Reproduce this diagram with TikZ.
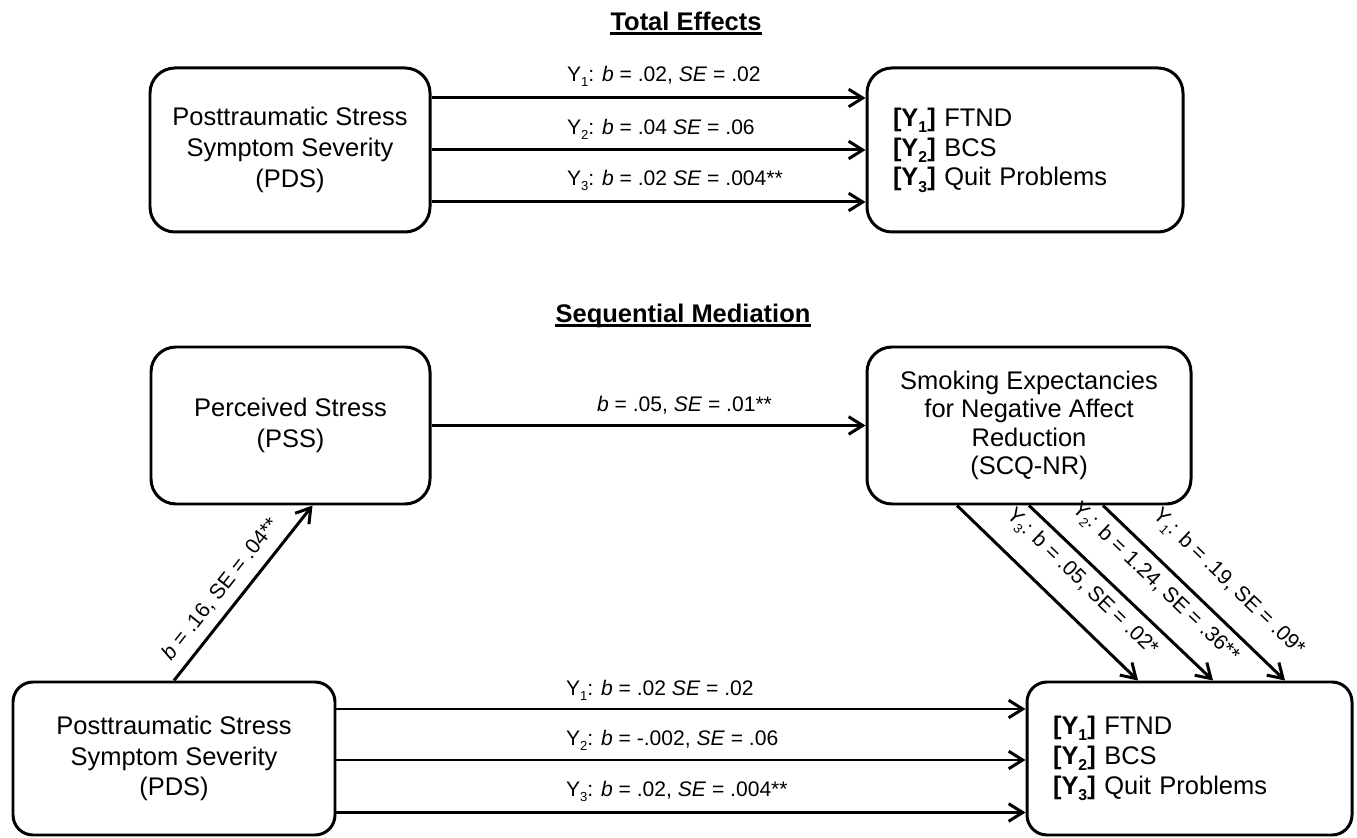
\documentclass[tikz,border=0pt]{standalone}
\usepackage{fontspec}
\setmainfont{Liberation Sans}
\usepackage{tikz}
\usetikzlibrary{positioning}
\usetikzlibrary{calc}
\usetikzlibrary{arrows.meta}

\newcommand{\lowsub}[1]{\raisebox{-0.45ex}{\scalebox{0.62}{#1}}}

\begin{document}
\begin{tikzpicture}[
    box/.style={draw, line width=1.7pt, rounded corners=0.5cm, align=center, font=\fontsize{14.5}{17.5}\selectfont},
    outbox/.style={box, align=left, inner xsep=0.52cm, font=\fontsize{14.5}{17}\selectfont},
    arr/.style={line width=1.7pt, -{Straight Barb[length=8pt,width=10pt]}},
    lab/.style={inner sep=0pt, font=\fontsize{12}{14}\selectfont},
    heading/.style={inner xsep=0pt, font=\bfseries\fontsize{14.5}{17.5}\selectfont}
]
    \useasboundingbox (0,0) rectangle (27.14,16.74);

    % headings
    \node [heading] (htot) at (13.72,16.32) {Total Effects};
    \node [heading] (hseq) at (13.66,10.42) {Sequential Mediation};
    \draw [line width=1.5pt] ([yshift=-1.8pt]htot.base west) -- ([yshift=-1.8pt]htot.base east);
    \draw [line width=1.5pt] ([yshift=-1.8pt]hseq.base west) -- ([yshift=-1.8pt]hseq.base east);

    % total effects
    \node [box, minimum width=5.6cm, minimum height=3.28cm] (tpds) at (5.80,13.74)
        {Posttraumatic Stress\\Symptom Severity\\(PDS)};
    \node [outbox, text width=5.28cm, minimum height=3.28cm] (tout) at (20.50,13.74)
        {\textbf{[Y\lowsub{1}]} FTND\\\textbf{[Y\lowsub{2}]} BCS\\\textbf{[Y\lowsub{3}]} Quit Problems};

    \draw [arr] ([yshift=1.04cm]tpds.east) -- node [lab, pos=0.309, anchor=west, yshift=0.44cm] (te1)
        {Y\lowsub{1}: \textit{b} = .02, \textit{SE} = .02} ([yshift=1.04cm]tout.west);
    \draw [arr] (tpds.east) -- node [lab, pos=0.309, anchor=west, yshift=0.42cm] (te2)
        {Y\lowsub{2}: \textit{b} = .04 \textit{SE} = .06} (tout.west);
    \draw [arr] ([yshift=-1.04cm]tpds.east) -- node [lab, pos=0.309, anchor=west, yshift=0.44cm] (te3)
        {Y\lowsub{3}: \textit{b} = .02 \textit{SE} = .004**} ([yshift=-1.04cm]tout.west);

    % sequential mediation
    \node [box, minimum width=5.58cm, minimum height=3.14cm] (pss) at (5.81,8.23)
        {Perceived Stress\\(PSS)};
    \node [box, minimum width=6.48cm, minimum height=3.14cm, font=\fontsize{14.5}{16.2}\selectfont] (scq) at (20.58,8.23)
        {Smoking Expectancies\\for Negative Affect\\Reduction\\(SCQ-NR)};
    \node [box, rounded corners=0.4cm, minimum width=6.44cm, minimum height=3.06cm] (bpds) at (3.48,1.57)
        {Posttraumatic Stress\\Symptom Severity\\(PDS)};
    \node [outbox, rounded corners=0.4cm, text width=5.46cm, minimum height=3.06cm] (bout) at (23.79,1.57)
        {\textbf{[Y\lowsub{1}]} FTND\\\textbf{[Y\lowsub{2}]} BCS\\\textbf{[Y\lowsub{3}]} Quit Problems};

    \draw [arr] (pss) -- node [lab, pos=0.378, anchor=west, yshift=0.4cm] (lps)
        {\textit{b} = .05, \textit{SE} = .01**} (scq);
    \draw [arr] (bpds.north) -- node [lab, sloped, above=5.5pt, pos=0.45] (lpp)
        {\textit{b} = .16, SE = .04**} ([xshift=0.44cm]pss.south);

    % scq to outcomes
    \draw [arr] ([xshift=-1.44cm]scq.south) -- node [lab, sloped, above=11pt, pos=0.57] (ly3)
        {Y\lowsub{3}: b = .05, SE = .02*} ([xshift=-1.03cm]bout.north);
    \draw [arr] (scq.south) -- node [lab, sloped, above=11pt, pos=0.57] (ly2)
        {Y\lowsub{2}: b = 1.24, SE = .36**} ([xshift=0.47cm]bout.north);
    \draw [arr] ([xshift=1.48cm]scq.south) -- node [lab, sloped, above=11pt, pos=0.57] (ly1)
        {Y\lowsub{1}: b = .19, SE = .09*} ([xshift=1.91cm]bout.north);

    % direct effects
    \draw [arr] ([yshift=0.99cm]bpds.east) -- node [lab, pos=0.331, anchor=west, yshift=0.38cm] (de1)
        {Y\lowsub{1}: \textit{b} = .02 \textit{SE} = .02} ([yshift=0.99cm]bout.west);
    \draw [arr] ([yshift=-0.03cm]bpds.east) -- node [lab, pos=0.331, anchor=west, yshift=0.4cm] (de2)
        {Y\lowsub{2}: \textit{b} = -.002, \textit{SE} = .06} ([yshift=-0.03cm]bout.west);
    \draw [arr] ([yshift=-1.08cm]bpds.east) -- node [lab, pos=0.331, anchor=west, yshift=0.42cm] (de3)
        {Y\lowsub{3}: \textit{b} = .02, \textit{SE} = .004**} ([yshift=-1.08cm]bout.west);
\end{tikzpicture}
\end{document}
